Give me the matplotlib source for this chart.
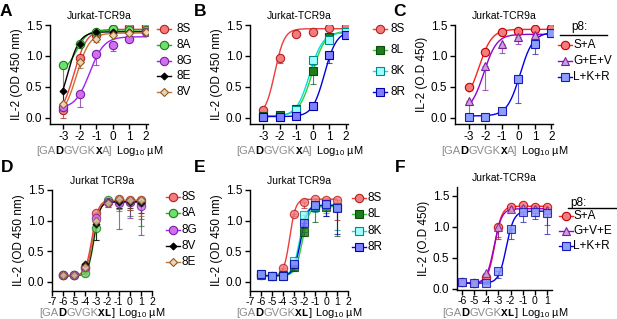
import numpy as np
import matplotlib
matplotlib.use('Agg')
import matplotlib.pyplot as plt
from matplotlib.lines import Line2D

plt.rcParams['font.family'] = ['Liberation Sans', 'DejaVu Sans']
plt.rcParams['mathtext.fontset'] = 'custom'
plt.rcParams['mathtext.rm'] = 'Liberation Sans'
plt.rcParams['mathtext.it'] = 'Liberation Sans:italic'
plt.rcParams['axes.unicode_minus'] = False

W, H = 617, 319

# ---- data (log10 uM doses, IL-2 OD450) ----
x_top = [-3, -2, -1, 0, 1, 2]
x_bot = [-6, -5, -4, -3, -2, -1, 0, 1]

A_labels = ['8S', '8A', '8G', '8E', '8V']
A_vals = [[0.12, 0.96, 1.34, 1.43, 1.46, 1.48],
          [0.85, 1.19, 1.39, 1.44, 1.42, 1.42],
          [0.18, 0.38, 1.03, 1.18, 1.27, 1.39],
          [0.44, 1.20, 1.38, 1.39, 1.39, 1.39],
          [0.23, 0.90, 1.27, 1.34, 1.37, 1.38]]
A_err = [[0.12, 0.06, 0.03, 0.02, 0.02, 0.02],
         [0.65, 0.05, 0.02, 0.02, 0.02, 0.02],
         [0.05, 0.21, 0.17, 0.10, 0.04, 0.03],
         [0.30, 0.04, 0.02, 0.02, 0.02, 0.02],
         [0.10, 0.10, 0.05, 0.02, 0.02, 0.02]]
# fit parameters: bottom, top, logEC50, hill slope
A_fit = [[0.00, 1.43, -2.35, 1.1],
         [0.75, 1.42, -2.20, 1.3],
         [0.15, 1.31, -1.40, 1.0],
         [0.00, 1.39, -2.75, 1.2],
         [0.00, 1.37, -2.20, 1.1]]

B_labels = ['8S', '8L', '8K', '8R']
B_vals = [[0.12, 0.96, 1.35, 1.38, 1.45, 1.48],
          [0.03, 0.05, 0.15, 0.75, 1.30, 1.38],
          [0.02, 0.02, 0.13, 0.93, 1.26, 1.38],
          [0.02, 0.01, 0.03, 0.19, 1.01, 1.34]]
B_err = [[0.02, 0.07, 0.02, 0.02, 0.02, 0.02],
         [0.01, 0.01, 0.03, 0.20, 0.04, 0.02],
         [0.01, 0.01, 0.03, 0.08, 0.04, 0.02],
         [0.01, 0.01, 0.01, 0.03, 0.12, 0.02]]
B_fit = [[0.03, 1.44, -2.30, 1.5],
         [0.03, 1.40, -0.05, 1.1],
         [0.02, 1.38, -0.20, 1.1],
         [0.02, 1.40, 0.70, 1.2]]

C_labels = ['S+A', 'G+E+V', 'L+K+R']
C_vals = [[0.49, 1.07, 1.38, 1.41, 1.43, 1.45],
          [0.27, 0.83, 1.20, 1.30, 1.34, 1.37],
          [0.02, 0.02, 0.11, 0.62, 1.19, 1.37]]
C_err = [[0.02, 0.05, 0.02, 0.02, 0.02, 0.02],
         [0.25, 0.38, 0.15, 0.10, 0.04, 0.02],
         [0.01, 0.01, 0.03, 0.38, 0.16, 0.02]]
C_fit = [[0.20, 1.43, -2.40, 1.1],
         [0.10, 1.35, -2.10, 1.1],
         [0.03, 1.38, 0.10, 1.1]]

D_labels = ['8S', '8A', '8G', '8V', '8E']
D_vals = [[0.11, 0.11, 0.23, 1.12, 1.30, 1.36, 1.33, 1.33],
          [0.11, 0.11, 0.15, 0.88, 1.33, 1.30, 1.31, 1.30],
          [0.11, 0.11, 0.25, 1.04, 1.30, 1.29, 1.30, 1.24],
          [0.11, 0.11, 0.29, 0.94, 1.30, 1.31, 1.31, 1.28],
          [0.11, 0.11, 0.24, 1.00, 1.29, 1.36, 1.33, 1.33]]
D_err = [[0.01, 0.01, 0.10, 0.05, 0.05, 0.17, 0.15, 0.30],
         [0.01, 0.01, 0.05, 0.20, 0.05, 0.10, 0.23, 0.38],
         [0.01, 0.01, 0.05, 0.05, 0.08, 0.42, 0.25, 0.47],
         [0.01, 0.01, 0.05, 0.25, 0.04, 0.10, 0.10, 0.15],
         [0.01, 0.01, 0.08, 0.05, 0.06, 0.20, 0.15, 0.25]]
D_fit = [[0.10, 1.33, -3.40, 1.5],
         [0.10, 1.32, -3.20, 1.6],
         [0.10, 1.30, -3.30, 1.6],
         [0.10, 1.31, -3.25, 1.6],
         [0.10, 1.33, -3.30, 1.6]]

E_labels = ['8S', '8L', '8K', '8R']
E_vals = [[0.11, 0.10, 0.22, 1.11, 1.31, 1.36, 1.34, 1.34],
          [0.11, 0.10, 0.11, 0.24, 0.81, 1.22, 1.23, 1.22],
          [0.12, 0.10, 0.10, 0.34, 1.09, 1.24, 1.25, 1.22],
          [0.13, 0.10, 0.10, 0.29, 0.96, 1.25, 1.27, 1.20]]
E_err = [[0.01, 0.01, 0.02, 0.03, 0.10, 0.05, 0.10, 0.33],
         [0.01, 0.01, 0.01, 0.04, 0.06, 0.25, 0.15, 0.47],
         [0.01, 0.01, 0.01, 0.05, 0.05, 0.10, 0.12, 0.38],
         [0.01, 0.01, 0.01, 0.12, 0.05, 0.08, 0.20, 0.42]]
E_fit = [[0.10, 1.35, -3.35, 1.6],
         [0.10, 1.23, -2.20, 1.4],
         [0.10, 1.25, -2.45, 1.4],
         [0.10, 1.25, -2.35, 1.4]]

F_labels = ['S+A', 'G+V+E', 'L+K+R']
F_vals = [[0.11, 0.10, 0.19, 1.00, 1.31, 1.35, 1.32, 1.31],
          [0.11, 0.10, 0.25, 0.99, 1.28, 1.30, 1.28, 1.27],
          [0.11, 0.10, 0.10, 0.28, 0.96, 1.23, 1.23, 1.22]]
F_err = [[0.01, 0.01, 0.03, 0.20, 0.05, 0.05, 0.05, 0.05],
         [0.01, 0.01, 0.05, 0.15, 0.05, 0.10, 0.10, 0.24],
         [0.01, 0.01, 0.02, 0.11, 0.16, 0.16, 0.11, 0.33]]
F_fit = [[0.09, 1.33, -3.30, 1.5],
         [0.09, 1.29, -3.35, 1.4],
         [0.09, 1.25, -2.35, 1.4]]

# marker, face, edge, line colour, marker size
RED = ('o', '#F47C7C', '#B22222', '#EE3B3B', 6)
GRN = ('o', '#6EE06E', '#1F7A1F', '#22B022', 6)
PUR = ('o', '#D070F0', '#7B1FA2', '#A020F0', 6)
BLK = ('D', '#000000', '#000000', '#000000', 3.5)
TAN = ('D', '#EFD3AE', '#8B5A2B', '#C8742E', 4)
DGR = ('s', '#1E7B1E', '#0B4D0B', '#33CC33', 5.5)
CYN = ('s', '#9FFFFF', '#008B8B', '#00E0E0', 5.5)
BLU = ('s', '#7F7FFF', '#0000AA', '#0000DD', 5.5)
TRI = ('^', '#C9A0DC', '#7B1FA2', '#9400D3', 6)
RED2 = ('o', '#F47C7C', '#C00000', '#FF2020', 6)
BLU2 = ('s', '#8C9EFF', '#1A1AB0', '#0000EE', 5.5)


def hill(x, b, t, ec, h):
    return b + (t - b) / (1 + 10 ** (h * (ec - x)))


def fx(px):
    return px / W


def fy(py):
    return 1 - py / H


fig = plt.figure(figsize=(W / 100, H / 100), dpi=100)


def make_ax(l, r, t, b):
    ax = fig.add_axes([fx(l), fy(b), fx(r) - fx(l), fy(t) - fy(b)])
    for s in ['top', 'right']:
        ax.spines[s].set_visible(False)
    for s in ['left', 'bottom']:
        ax.spines[s].set_linewidth(1.0)
    ax.tick_params(direction='out', length=3.5, width=1.0, labelsize=8.5, pad=2)
    return ax


def draw(ax, x, vals, errs, fits, styles, xr, alpha=1.0):
    xx = np.linspace(xr[0], xr[1], 200)
    for v, e, f, s in zip(vals, errs, fits, styles):
        m, fc, ec, lc, ms = s
        ax.plot(xx, hill(xx, *f), color=lc, lw=1.0, zorder=2)
        ax.errorbar(x, v, yerr=[e, np.zeros(len(e))], fmt='none', ecolor=ec,
                    elinewidth=0.8, capsize=2.5, capthick=0.8, alpha=0.7, zorder=2)
        ax.plot(x, v, ls='none', marker=m, mfc=fc, mec=ec, ms=ms, mew=0.8,
                alpha=alpha, zorder=3)


def legend(labels, styles, xm, ys, xt):
    for lab, s, y in zip(labels, styles, ys):
        m, fc, ec, lc, ms = s
        fig.add_artist(Line2D([fx(xm - 7), fx(xm + 7)], [fy(y), fy(y)], color=lc, lw=1.0))
        fig.add_artist(Line2D([fx(xm)], [fy(y)], marker=m, mfc=fc, mec=ec, ms=ms, mew=0.8))
        fig.text(fx(xt), fy(y), lab, fontsize=8.5, va='center', ha='left')


def seq_label(parts, xc, yb):
    renderer = fig.canvas.get_renderer()
    texts = []
    for s, col, wt, fam in parts:
        t = fig.text(0, fy(yb), s, color=col, fontweight=wt, fontsize=8,
                     family=fam, va='baseline', ha='left')
        texts.append(t)
    widths = [t.get_window_extent(renderer).width for t in texts]
    x0 = xc - sum(widths) / 2
    for t, w in zip(texts, widths):
        t.set_x(fx(x0))
        x0 += w


GRAY = '#8C8C8C'
SANS = ['Liberation Sans', 'DejaVu Sans']
MONO = ['Liberation Mono', 'DejaVu Sans Mono']
top_parts = [('[GA', GRAY, 'normal', SANS), ('D', 'black', 'bold', SANS),
             ('GVGK', GRAY, 'normal', SANS), ('X', 'black', 'bold', MONO),
             ('A]', GRAY, 'normal', SANS), (r' Log$_{10}$ µM', 'black', 'normal', SANS)]
bot_parts = [('[GA', GRAY, 'normal', SANS), ('D', 'black', 'bold', SANS),
             ('GVGK', GRAY, 'normal', SANS), ('XL', 'black', 'bold', MONO),
             (']', 'black', 'normal', SANS), (r' Log$_{10}$ µM', 'black', 'normal', SANS)]

# ---- panel A ----
axA = make_ax(50, 148, 25, 124)
draw(axA, x_top, A_vals, A_err, A_fit, [RED, GRN, PUR, BLK, TAN], (-3, 2))
axA.set_xlim(-3.8, 2.12)
axA.set_ylim(-0.1, 1.5)
legend(A_labels, [RED, GRN, PUR, BLK, TAN], 164, [29, 45, 61, 76, 92], 177)

# ---- panel B ----
axB = make_ax(250, 348, 25, 124)
draw(axB, x_top, B_vals, B_err, B_fit, [RED, DGR, CYN, BLU], (-3, 2))
axB.set_xlim(-3.8, 2.12)
axB.set_ylim(-0.1, 1.5)
legend(B_labels, [RED, DGR, CYN, BLU], 380, [29, 50, 71, 92], 390)

# ---- panel C ----
axC = make_ax(455, 553, 25, 124)
draw(axC, x_top, C_vals, C_err, C_fit, [RED2, TRI, BLU2], (-3, 2))
axC.set_xlim(-3.85, 2.1)
axC.set_ylim(-0.1, 1.5)
fig.text(fx(571), fy(27), 'p8:', fontsize=8.5, va='center')
fig.add_artist(Line2D([fx(560), fx(607)], [fy(35), fy(35)], color='black', lw=1.0))
legend(C_labels, [RED2, TRI, BLU2], 565, [45, 61, 77], 573)

for ax in (axA, axB, axC):
    ax.set_xticks(x_top)
    ax.set_xticklabels([str(v) for v in x_top])
    ax.set_yticks([0, 0.5, 1.0, 1.5])
    ax.set_title('Jurkat-TCR9a', fontsize=7.5, pad=4)
    ax.tick_params(axis='x', pad=1.5)
axA.set_ylabel('IL-2 (OD 450 nm)', fontsize=8.5, labelpad=2)
axB.set_ylabel('IL-2 (OD 450 nm)', fontsize=8.5, labelpad=2)
axC.set_ylabel('IL-2 (O.D 450)', fontsize=8.5, labelpad=2)

# ---- panel D ----
axD = make_ax(52, 152, 190, 291)
draw(axD, x_bot, D_vals, D_err, D_fit, [RED, GRN, PUR, BLK, TAN], (-6, 1), alpha=0.8)
axD.set_xlim(-7, 2)
axD.set_ylim(-0.15, 1.5)
legend(D_labels, [RED, GRN, PUR, BLK, TAN], 173, [197, 213, 230, 246, 262], 182)

# ---- panel E ----
axE = make_ax(250, 348, 190, 291)
draw(axE, x_bot, E_vals, E_err, E_fit, [RED, DGR, CYN, BLU], (-6, 1), alpha=0.8)
axE.set_xlim(-7, 2)
axE.set_ylim(-0.15, 1.5)
legend(E_labels, [RED, DGR, CYN, BLU], 359, [198, 214, 231, 247], 368)

for ax in (axD, axE):
    ax.set_xticks(list(range(-7, 3)))
    ax.set_xticklabels([str(v) for v in range(-7, 3)])
    ax.set_yticks([0, 0.5, 1.0, 1.5])
    ax.set_title('Jurkat TCR9a', fontsize=7.5, pad=4)
    ax.set_ylabel('IL-2 (OD 450 nm)', fontsize=8.5, labelpad=2)

# ---- panel F ----
axF = make_ax(457, 552, 187, 290)
draw(axF, x_bot, F_vals, F_err, F_fit, [RED2, TRI, BLU2], (-6, 1), alpha=0.85)
axF.set_xlim(-6.4, 1.4)
axF.set_ylim(-0.02, 1.64)
axF.set_xticks(x_bot)
axF.set_xticklabels([str(v) for v in x_bot])
axF.set_yticks([0, 0.5, 1.0, 1.5])
axF.set_title('Jurkat-TCR9a', fontsize=7.5, pad=4)
axF.set_ylabel('IL-2 (O.D 450)', fontsize=8.5, labelpad=2)
fig.text(fx(570), fy(203), 'p8:', fontsize=8.5, va='center')
fig.add_artist(Line2D([fx(568), fx(617)], [fy(208), fy(208)], color='black', lw=1.0))
legend(F_labels, [RED2, TRI, BLU2], 566, [216, 231, 246], 573)

# the log-dose axes of the bottom row are crowded: slightly smaller tick text
for ax in (axD, axE, axF):
    ax.tick_params(axis='x', labelsize=7.6, pad=1)

# x labels
seq_label(top_parts, 100, 154)
seq_label(top_parts, 300, 154)
seq_label(top_parts, 505, 154)
seq_label(bot_parts, 102, 316.5)
seq_label(bot_parts, 299, 316.5)
seq_label(bot_parts, 505, 315.5)

# panel letters
for lab, x, y in [('A', 6, 12), ('B', 200, 12), ('C', 400, 12),
                  ('D', 7, 167), ('E', 200, 167), ('F', 400, 167)]:
    fig.text(fx(x), fy(y), lab, fontsize=12.5, fontweight='bold', ha='center', va='center')

fig.savefig('out.png', dpi=100)
